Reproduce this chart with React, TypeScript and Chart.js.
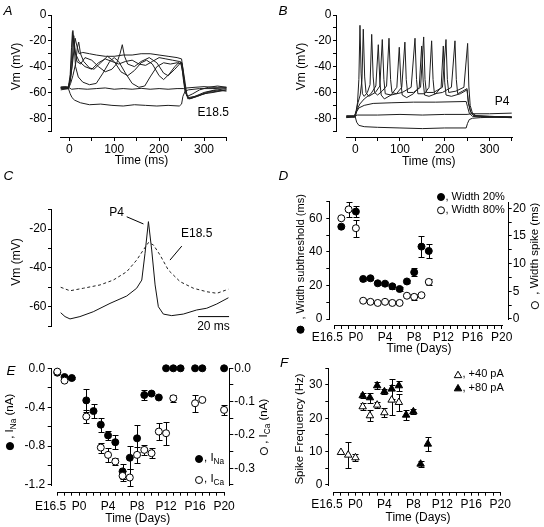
import React, { useEffect, useRef } from 'react';
import { Chart, registerables } from 'chart.js';

Chart.register(...registerables);

const FONT = "'Liberation Sans', Arial, Helvetica, sans-serif";
const PAGE_W = 544;
const PAGE_H = 527;
const LW = 30; // forced width of left axis boxes
const RW = 30; // forced width of right axis boxes
const XH = 30; // forced height of bottom axis boxes
const TICK_FONT = 12;

// ---------------- Panel A : E18.5 voltage traces (time ms, Vm mV) ----------------
const aTraceHyper = [[-19,-57],[-2,-57],[2,-61],[6,-64],[12,-66],[25,-68],[45,-69.5],[70,-69],[95,-70],[120,-70.5],[145,-69.5],[170,-70],[195,-70.5],[220,-70],[245,-70.5],[250,-69],[253,-63],[258,-59],[265,-58],[290,-57],[320,-57],[350,-56.5]];
const aTraceSub = [[-19,-56],[-2,-56],[5,-57.5],[20,-57],[40,-57.5],[60,-57],[80,-56.5],[100,-57.5],[120,-57],[140,-57.5],[160,-56.8],[180,-57.5],[200,-57],[220,-57.5],[240,-57],[255,-57],[262,-56.5],[280,-56],[300,-55.5],[320,-56],[350,-56]];
const aTrace1 = [[-19,-56],[-10,-55.5],[-2,-56],[2,-50],[5,-35],[8,-12],[11,-25],[14,-40],[20,-48],[30,-52],[45,-54],[60,-53],[75,-45],[90,-36],[100,-33],[110,-36],[125,-45],[140,-53],[155,-56],[168,-55],[180,-48],[195,-40],[210,-37],[225,-38],[240,-37],[250,-38],[254,-50],[258,-60],[265,-64],[280,-63],[300,-61],[320,-60],[350,-58]];
const aTrace2 = [[-19,-57],[-2,-57],[2,-52],[6,-40],[10,-16],[13,-28],[17,-36],[25,-38],[35,-33],[50,-35],[65,-40],[80,-44],[95,-42],[105,-38],[113,-30],[118,-23],[123,-32],[130,-38],[145,-40],[160,-36],[178,-33],[195,-37],[210,-45],[220,-47],[235,-42],[248,-37],[253,-45],[258,-58],[264,-65],[280,-63],[300,-60],[325,-58],[350,-59]];
const aTrace3 = [[-19,-56],[-2,-56],[3,-48],[8,-35],[13,-18],[17,-24],[22,-30],[30,-29],[45,-30],[60,-31],[80,-32],[100,-32],[120,-31],[140,-31],[160,-30],[180,-30],[200,-31],[220,-32],[240,-33],[250,-34],[254,-45],[258,-57],[263,-63],[275,-61],[290,-58],[310,-56],[330,-55],[350,-56]];
const aTrace4 = [[-19,-58],[-2,-57],[3,-53],[8,-47],[14,-38],[18,-25],[21,-21],[25,-30],[32,-36],[45,-41],[55,-42],[70,-37],[85,-32],[100,-36],[115,-44],[130,-47],[145,-43],[160,-37],[172,-35],[185,-38],[200,-47],[210,-50],[222,-46],[235,-40],[246,-36],[251,-37],[256,-48],[262,-62],[268,-65],[285,-63],[310,-60],[350,-58]];
const aTrace5 = [[-19,-56],[-2,-56],[2,-46],[5,-25],[7,-13],[10,-22],[14,-30],[22,-36],[35,-40],[50,-42],[65,-37],[80,-34],[95,-36],[110,-38],[125,-36],[140,-35],[155,-38],[170,-39],[185,-36],[200,-33],[215,-34],[230,-35],[245,-36],[251,-38],[256,-52],[261,-62],[267,-65],[285,-63],[305,-60],[330,-58],[350,-57]];

// ---------------- Panel B : P4 voltage traces ----------------
const bTraceHyper = [[-20,-79],[-5,-78.5],[0,-79],[3,-83],[8,-85.5],[20,-86.5],[50,-87],[100,-87.5],[150,-88],[200,-87.5],[248,-87.5],[251,-84],[255,-81],[262,-80],[280,-79.5],[320,-79],[350,-79]];
const bTraceSub1 = [[-20,-78],[0,-78],[5,-77.5],[50,-77.5],[100,-77],[150,-77.5],[200,-77],[250,-77],[260,-76.5],[300,-76.5],[350,-76]];
const bTraceSub2 = [[-20,-79],[0,-79],[3,-75],[8,-72],[20,-70],[40,-68.5],[80,-68],[130,-67.5],[180,-67.5],[248,-67],[251,-71],[255,-76],[262,-78.5],[280,-79],[350,-79.5]];
const bTrace1 = [[-20,-79],[-10,-78.5],[-2,-79],[2,-74],[5,-68],[8,-50],[10.5,-8],[13,-45],[16,-61],[20,-63],[27,-60],[33,-54],[36.7,-15],[40,-48],[43,-60],[50,-62],[60,-59],[70,-55],[75.4,-18],[79,-50],[82,-60],[92,-61],[104,-56],[111,-21],[114,-50],[117,-60],[130,-60],[146,-56],[153,-17],[156,-50],[159,-60],[175,-60],[195,-56],[202.9,-19],[206,-50],[209,-60],[225,-59],[243,-56],[251.3,-22],[254,-55],[257,-70],[262,-76],[270,-78],[300,-78.5],[350,-79]];
const bTrace2 = [[-20,-78.5],[-2,-78.5],[2,-75],[6,-68],[11,-62],[15,-50],[17.9,-11],[21,-48],[24,-60],[30,-63],[45,-60],[55,-55],[60.4,-19],[64,-50],[67,-61],[80,-62],[105,-60],[125,-56],[133.6,-18],[137,-50],[140,-61],[155,-61],[165,-56],[170.8,-20],[174,-50],[177,-61],[195,-60],[215,-56],[223,-20],[226,-50],[229,-61],[240,-59],[250,-57],[253,-68],[258,-75],[265,-78],[300,-79],[350,-79.5]];
const bTrace3 = [[-20,-79.5],[-2,-79],[3,-74],[10,-69],[20,-65],[35,-61],[46,-55],[51.5,-23],[55,-52],[58,-62],[65,-65],[80,-62],[93,-56],[98.4,-25],[102,-52],[105,-62],[115,-64],[130,-61],[143,-56],[148.5,-24],[152,-52],[155,-62],[165,-63],[180,-61],[192,-56],[196.9,-24],[200,-52],[203,-62],[215,-63],[235,-61],[250,-58],[253,-68],[258,-75],[265,-78],[300,-78.5],[350,-79]];

const msTicks = [0, 50, 100, 150, 200, 250, 300, 350];
const msTickLabels = ['0', '', '100', '', '200', '', '300', ''];
const vmTicksAB = [-90, -80, -70, -60, -50, -40, -30, -20, -10, 0];
const vmTickLabelsAB = ['', '-80', '', '-60', '', '-40', '', '-20', '', '0'];

// ---------------- Panel C : single spikes (ms, mV) ----------------
const cTraceP4 = [[5.6,-63.1],[8.4,-65.1],[11.6,-66.3],[18,-65.1],[26.6,-62.6],[37.4,-58.3],[48.2,-54.5],[54.6,-50.5],[57.9,-46.3],[60,-32.5],[62.2,-16.2],[64.3,-30.8],[66.5,-48.8],[68.6,-60],[71.8,-63.8],[77.2,-64.6],[84.7,-63.8],[93.3,-61.7],[99.8,-60.8],[106.3,-58.6],[113.8,-55.4]];
const cTraceE185 = [[5.6,-50],[11.6,-51.8],[20.2,-50.5],[31,-48.8],[39.5,-46.3],[48.2,-42],[54.6,-36],[58.9,-30.8],[62.2,-27],[65.4,-28.2],[69.7,-33.4],[75,-41.1],[82.6,-47.1],[91.2,-50.5],[99.8,-52.3],[106.3,-53.1],[113.8,-51]];
const cLeaderP4 = [[48.2,-13.7],[59,-17.4]];
const cLeaderE185 = [[83.7,-28.8],[76.1,-36]];
const cScaleBar = [[94.2,-65.1],[114.2,-65.1]];
const cVmTicks = [-70, -60, -50, -40, -30, -20, -10];
const cVmTickLabels = ['', '-60', '', '-40', '', '-20', ''];

// ---------------- Days axis shared by D, E, F ----------------
const dayTicks = [-3,-2,-1,0,1,2,3,4,5,6,7,8,9,10,11,12,13,14,15,16,17,18,19,20];
const dayTickLabels = ['E16.5    ','','','P0','','','','P4','','','','P8','','','','P12','','','','P16','','','','P20'];

// ---------------- Panel D : widths ----------------
const dDays20 = [-2, 0, 1, 2, 3, 4, 5, 6, 7, 8, 9, 10];
const dWidth20 = [55.1, 64.1, 23.9, 24.3, 21.3, 21.1, 19.5, 17.9, 22.4, 27.9, 43.2, 40.6];
const dWidth20Err = [0, 3.3, 1, 1, 0.8, 0.8, 1.5, 1, 1, 2.3, 6.2, 4.4];
const dDays80 = [-2, -1, 0, 1, 2, 3, 4, 5, 6, 7, 8, 9, 10];
const dWidth80 = [18.2, 19.8, 16.4, 3.3, 3.1, 2.9, 3.1, 2.9, 2.9, 4.2, 4.0, 4.3, 6.7];
const dWidth80Err = [0, 1.3, 1.5, 0.3, 0, 0, 0, 0, 0, 0.3, 0.6, 0, 0.5];
const dLeftTicks = [0, 10, 20, 30, 40, 50, 60, 70];
const dLeftTickLabels = ['0', '', '20', '', '40', '', '60', ''];
const dRightTicks = [0, 2.5, 5, 7.5, 10, 12.5, 15, 17.5, 20];
const dRightTickLabels = ['0', '', '5', '', '10', '', '15', '', '20'];

// ---------------- Panel E : currents ----------------
const eDaysNa = [-3, -2, -1, 1, 2, 3, 4, 5, 6, 7, 8, 9, 10, 11, 12, 13, 14, 16, 17, 20];
const eINa = [-0.045, -0.09, -0.1, -0.33, -0.44, -0.58, -0.69, -0.76, -1.06, -0.92, -0.72, -0.275, -0.26, -0.3, 0, 0, 0, 0, 0, 0];
const eINaErr = [0, 0.015, 0.01, 0.12, 0.07, 0.07, 0.05, 0.07, 0.08, 0.12, 0.14, 0.05, 0, 0, 0, 0, 0, 0, 0, 0];
const eDaysCa = [-3, -2, 1, 3, 4, 5, 6, 7, 8, 9, 10, 11, 12, 13, 16, 17, 20];
const eICa = [-0.01, -0.037, -0.145, -0.238, -0.26, -0.28, -0.323, -0.328, -0.26, -0.245, -0.255, -0.19, -0.195, -0.09, -0.105, -0.095, -0.125];
const eICaErr = [0, 0, 0.02, 0.015, 0.02, 0.01, 0.015, 0.025, 0.025, 0.015, 0.015, 0.025, 0.035, 0.01, 0.025, 0, 0.015];
const eLeftTicks = [-1.2, -1.0, -0.8, -0.6, -0.4, -0.2, 0];
const eLeftTickLabels = ['-1.2', '', '-0.8', '', '-0.4', '', '0.0'];
const eRightTicks = [-0.35, -0.3, -0.25, -0.2, -0.15, -0.1, -0.05, 0];
const eRightTickLabels = ['', '-0.3', '', '-0.2', '', '-0.1', '', '0.0'];

// ---------------- Panel F : spike frequency ----------------
const fDays40 = [-2, -1, 0, 1, 2, 3, 4, 5, 6];
const fFreq40 = [9.8, 9.0, 8.2, 23.5, 20.8, 24.0, 21.7, 25.5, 24.8];
const fFreq40Err = [0, 3.9, 1, 1, 1.7, 1, 1.3, 4.5, 2.5];
const fDays80 = [1, 2, 3, 4, 5, 6, 7, 8, 9, 10];
const fFreq80 = [26.8, 26.2, 29.8, 28.0, 28.8, 29.8, 21.0, 22.0, 6.3, 12.3];
const fFreq80Err = [0.8, 1.5, 1, 0.8, 3, 1.5, 1.5, 0.8, 0.8, 2];
const fTicks = [0, 5, 10, 15, 20, 25, 30, 35];
const fTickLabels = ['0', '', '10', '', '20', '', '30', ''];

// ---------------- helpers ----------------
const tr = (p: number[][]) => p.map(([x, y]) => ({ x, y }));
const xy = (xs: number[], ys: number[]) => xs.map((x, i) => ({ x, y: ys[i] }));

function traceDs(points: number[][], extra: any = {}) {
  return { data: tr(points), showLine: true, borderColor: '#1e1e1e', borderWidth: 1, pointRadius: 0, tension: 0, ...extra };
}

function markDs(xs: number[], ys: number[], errs: number[], style: string, filled: boolean, yAxisID = 'y') {
  const r = style === 'triangle' ? 4.3 : 3.5;
  return {
    data: xy(xs, ys), errors: errs, showLine: false, yAxisID, clip: false,
    pointStyle: style, pointRadius: r, pointBorderWidth: 1,
    pointBorderColor: '#000', pointBackgroundColor: filled ? '#000' : '#fff',
    borderColor: '#000', backgroundColor: filled ? '#000' : '#fff',
  };
}

function axis(pos: string, min: number, max: number, ticks: number[], labels: string[], pad: number, size: number) {
  const vertical = pos === 'left' || pos === 'right';
  return {
    type: 'linear', position: pos, min, max, display: true,
    afterBuildTicks: (s: any) => { s.ticks = ticks.map((v) => ({ value: v })); },
    afterFit: (s: any) => { if (vertical) s.width = size; else s.height = size; },
    grid: { display: true, drawOnChartArea: false, drawTicks: true, tickLength: 4, color: '#000', lineWidth: 1 },
    border: { display: false },
    title: { display: false },
    ticks: {
      autoSkip: false, maxRotation: 0, minRotation: 0, padding: pad, color: '#000',
      font: { size: TICK_FONT, family: FONT },
      callback: (_v: any, i: number) => labels[i] ?? '',
    },
  };
}

// text item: parts may be strings, subscripts or drawn circle symbols
function drawText(ctx: CanvasRenderingContext2D, it: any) {
  const size = it.size ?? 11.5;
  const parts = typeof it.text === 'string' ? [{ t: it.text }] : it.text;
  const fontFor = (p: any) => `${it.italic ? 'italic ' : ''}${p.sub ? size * 0.72 : size}px ${FONT}`;
  ctx.save();
  ctx.translate(it.x, it.y);
  if (it.rot) ctx.rotate(-Math.PI / 2);
  let total = 0;
  const widths = parts.map((p: any) => {
    let w;
    if (p.sym) w = p.r * 2 + 1;
    else { ctx.font = fontFor(p); w = ctx.measureText(p.t).width; }
    total += w;
    return w;
  });
  let x = it.align === 'left' ? 0 : it.align === 'right' ? -total : -total / 2;
  ctx.fillStyle = '#000';
  ctx.textAlign = 'left';
  ctx.textBaseline = it.baseline ?? 'middle';
  parts.forEach((p: any, i: number) => {
    if (p.sym) {
      ctx.beginPath();
      ctx.arc(x + p.r + 0.5, 0, p.r, 0, Math.PI * 2);
      ctx.fillStyle = p.sym === 'filled' ? '#000' : '#fff';
      ctx.fill();
      ctx.lineWidth = 1;
      ctx.strokeStyle = '#000';
      ctx.stroke();
      ctx.fillStyle = '#000';
    } else {
      ctx.font = fontFor(p);
      ctx.fillText(p.t, x, p.sub ? size * 0.32 : 0);
    }
    x += widths[i];
  });
  ctx.restore();
}

function drawMarker(ctx: CanvasRenderingContext2D, m: any) {
  ctx.save();
  ctx.beginPath();
  if (m.shape === 'circle') {
    ctx.arc(m.x, m.y, m.r, 0, Math.PI * 2);
  } else {
    let rad = 0;
    ctx.moveTo(m.x + Math.sin(rad) * m.r, m.y - Math.cos(rad) * m.r);
    rad += (2 * Math.PI) / 3;
    ctx.lineTo(m.x + Math.sin(rad) * m.r, m.y - Math.cos(rad) * m.r);
    rad += (2 * Math.PI) / 3;
    ctx.lineTo(m.x + Math.sin(rad) * m.r, m.y - Math.cos(rad) * m.r);
    ctx.closePath();
  }
  ctx.fillStyle = m.filled ? '#000' : '#fff';
  ctx.fill();
  ctx.lineWidth = 1;
  ctx.strokeStyle = '#000';
  ctx.stroke();
  ctx.restore();
}

function decor(spec: any) {
  return {
    id: 'decor',
    beforeDatasetsDraw(chart: any) {
      const ctx = chart.ctx;
      chart.data.datasets.forEach((ds: any) => {
        if (!ds.errors) return;
        const xs = chart.scales[ds.xAxisID || 'x'];
        const ys = chart.scales[ds.yAxisID || 'y'];
        ctx.save();
        ctx.strokeStyle = '#000';
        ctx.lineWidth = 1;
        ds.data.forEach((d: any, j: number) => {
          const e = ds.errors[j];
          if (!e) return;
          const px = Math.round(xs.getPixelForValue(d.x)) + 0.5;
          const y1 = Math.round(ys.getPixelForValue(d.y + e)) + 0.5;
          const y2 = Math.round(ys.getPixelForValue(d.y - e)) + 0.5;
          ctx.beginPath();
          ctx.moveTo(px, y1); ctx.lineTo(px, y2);
          ctx.moveTo(px - 3, y1); ctx.lineTo(px + 3, y1);
          ctx.moveTo(px - 3, y2); ctx.lineTo(px + 3, y2);
          ctx.stroke();
        });
        ctx.restore();
      });
    },
    afterDraw(chart: any) {
      const ctx = chart.ctx;
      const ca = chart.chartArea;
      ctx.save();
      ctx.strokeStyle = '#000';
      ctx.lineWidth = 1;
      (spec.axes || []).forEach((a: any) => {
        const s = chart.scales[a.s];
        ctx.beginPath();
        if (s.isHorizontal()) {
          const y = Math.round(ca.bottom) + 0.5;
          ctx.moveTo(Math.round(s.getPixelForValue(a.from)), y);
          ctx.lineTo(Math.round(s.getPixelForValue(a.to)) + 1, y);
        } else {
          const x = s.position === 'right' ? Math.round(ca.right) + 0.5 : Math.round(ca.left) - 0.5;
          ctx.moveTo(x, Math.round(s.getPixelForValue(a.from)) + 1);
          ctx.lineTo(x, Math.round(s.getPixelForValue(a.to)));
        }
        ctx.stroke();
      });
      ctx.restore();
      (spec.markers || []).forEach((m: any) => drawMarker(ctx, m));
      (spec.texts || []).forEach((t: any) => drawText(ctx, t));
    },
  };
}

function makeConfig(o: any) {
  const a = o.area;
  return {
    type: 'scatter',
    data: { datasets: o.datasets },
    options: {
      responsive: false,
      maintainAspectRatio: false,
      animation: false,
      devicePixelRatio: 1,
      events: [],
      layout: {
        padding: {
          left: a.l - LW,
          top: a.t,
          right: PAGE_W - a.r - (o.hasRight ? RW : 0),
          bottom: PAGE_H - a.b - (o.hasX === false ? 0 : XH),
        },
      },
      scales: o.scales,
      plugins: { legend: { display: false }, tooltip: { enabled: false }, title: { display: false } },
    },
    plugins: [decor(o.decor)],
  };
}

// ---------------- panel configs ----------------
const letter = (t: string, x: number, y: number) => ({ x, y, text: t, size: 13.5, italic: true, align: 'left', baseline: 'alphabetic' });
const SYM_R = 3.6;

function configA() {
  return makeConfig({
    area: { l: 52, t: 15, r: 228, b: 137 },
    scales: {
      x: axis('bottom', -38.5, 353.4, msTicks, msTickLabels, 1.5, XH),
      y: axis('left', -94.5, 0, vmTicksAB, vmTickLabelsAB, 1.5, LW),
    },
    datasets: [aTraceHyper, aTraceSub, aTrace1, aTrace2, aTrace3, aTrace4, aTrace5].map((p) => traceDs(p)),
    decor: {
      axes: [{ s: 'y', from: -90, to: 0 }, { s: 'x', from: -20, to: 350 }],
      texts: [
        letter('A', 3.5, 15),
        { x: 17, y: 66.5, text: 'Vm (mV)', rot: true, size: 12 },
        { x: 141.5, y: 161, text: 'Time (ms)', size: 12 },
        { x: 213.3, y: 112.5, text: 'E18.5', size: 12 },
      ],
    },
  });
}

function configB() {
  return makeConfig({
    area: { l: 337, t: 15, r: 513, b: 137 },
    scales: {
      x: axis('bottom', -40.9, 352.8, msTicks, msTickLabels, 1.5, XH),
      y: axis('left', -94.5, 0, vmTicksAB, vmTickLabelsAB, 1.5, LW),
    },
    datasets: [bTraceHyper, bTraceSub1, bTraceSub2, bTrace1, bTrace2, bTrace3].map((p) => traceDs(p)),
    decor: {
      axes: [{ s: 'y', from: -90, to: 0 }, { s: 'x', from: -20, to: 350 }],
      texts: [
        letter('B', 278.5, 15),
        { x: 302, y: 66.5, text: 'Vm (mV)', rot: true, size: 12 },
        { x: 428.7, y: 162, text: 'Time (ms)', size: 12 },
        { x: 502, y: 102, text: 'P4', size: 12 },
      ],
    },
  });
}

function configC() {
  return makeConfig({
    area: { l: 52, t: 205, r: 232, b: 330 },
    hasX: false,
    scales: {
      x: { type: 'linear', display: false, min: 0, max: 116.1 },
      y: axis('left', -72, -7.64, cVmTicks, cVmTickLabels, 1.5, LW),
    },
    datasets: [
      traceDs(cTraceP4, { borderColor: '#111' }),
      traceDs(cTraceE185, { borderColor: '#222', borderDash: [3, 2.5] }),
      traceDs(cLeaderP4, { borderColor: '#000' }),
      traceDs(cLeaderE185, { borderColor: '#000' }),
      traceDs(cScaleBar, { borderColor: '#000' }),
    ],
    decor: {
      axes: [{ s: 'y', from: -70, to: -10 }],
      texts: [
        letter('C', 3.5, 180),
        { x: 17, y: 262, text: 'Vm (mV)', rot: true, size: 12 },
        { x: 116.7, y: 212.7, text: 'P4', size: 12 },
        { x: 196.7, y: 233.3, text: 'E18.5', size: 12 },
        { x: 213.5, y: 327, text: '20 ms', size: 12 },
      ],
    },
  });
}

function configD() {
  return makeConfig({
    area: { l: 330.3, t: 201.7, r: 507.7, b: 325 },
    hasRight: true,
    scales: {
      x: axis('bottom', -3.51, 20.83, dayTicks, dayTickLabels, 1.5, XH),
      y: axis('left', -3.58, 70, dLeftTicks, dLeftTickLabels, 4, LW),
      y2: axis('right', -1.084, 21.19, dRightTicks, dRightTickLabels, 1, RW),
    },
    datasets: [
      markDs(dDays80, dWidth80, dWidth80Err, 'circle', false, 'y2'),
      markDs(dDays20, dWidth20, dWidth20Err, 'circle', true, 'y'),
    ],
    decor: {
      axes: [{ s: 'y', from: 0, to: 70 }, { s: 'y2', from: 0, to: 21.19 }, { s: 'x', from: -3, to: 20 }],
      markers: [
        { shape: 'circle', x: 441, y: 197, r: 3.5, filled: true },
        { shape: 'circle', x: 441, y: 210.3, r: 3.5, filled: false },
      ],
      texts: [
        letter('D', 278.5, 180),
        { x: 300.5, y: 264, text: [{ sym: 'filled', r: SYM_R }, { t: '  , Width subthreshold (ms)' }], rot: true, size: 11 },
        { x: 535, y: 256, text: [{ sym: 'open', r: SYM_R }, { t: '  , Width spike (ms)' }], rot: true, size: 11.5 },
        { x: 419, y: 349, text: 'Time (Days)', size: 12 },
        { x: 445.5, y: 197, text: ', Width 20%', align: 'left', size: 11 },
        { x: 445.5, y: 210.3, text: ', Width 80%', align: 'left', size: 11 },
      ],
    },
  });
}

function configE() {
  return makeConfig({
    area: { l: 51.7, t: 368.3, r: 229.3, b: 491.7 },
    hasRight: true,
    scales: {
      x: axis('bottom', -3.77, 20.72, dayTicks, dayTickLabels, 3.5, XH),
      y: axis('left', -1.269, 0, eLeftTicks, eLeftTickLabels, 2.5, LW),
      y2: axis('right', -0.3706, 0, eRightTicks, eRightTickLabels, 1, RW),
    },
    datasets: [
      markDs(eDaysCa, eICa, eICaErr, 'circle', false, 'y2'),
      markDs(eDaysNa, eINa, eINaErr, 'circle', true, 'y'),
    ],
    decor: {
      axes: [{ s: 'y', from: -1.2, to: 0 }, { s: 'y2', from: -0.35, to: 0 }, { s: 'x', from: -3, to: 20 }],
      markers: [
        { shape: 'circle', x: 199, y: 459, r: 3.5, filled: true },
        { shape: 'circle', x: 199, y: 480, r: 3.5, filled: false },
      ],
      texts: [
        letter('E', 6.5, 375),
        { x: 10, y: 422, text: [{ sym: 'filled', r: SYM_R }, { t: ' , I' }, { t: 'Na', sub: true }, { t: ' (nA)' }], rot: true },
        { x: 264, y: 427, text: [{ sym: 'open', r: SYM_R }, { t: ' , I' }, { t: 'Ca', sub: true }, { t: ' (nA)' }], rot: true },
        { x: 137.7, y: 518.3, text: 'Time (Days)', size: 12 },
        { x: 204, y: 458, text: [{ t: ', I' }, { t: 'Na', sub: true }], align: 'left', size: 11.5 },
        { x: 204, y: 479, text: [{ t: ', I' }, { t: 'Ca', sub: true }], align: 'left', size: 11.5 },
      ],
    },
  });
}

function configF() {
  return makeConfig({
    area: { l: 329.3, t: 368.3, r: 503, b: 491.7 },
    scales: {
      x: axis('bottom', -3.61, 20.38, dayTicks, dayTickLabels, 1.5, XH),
      y: axis('left', -2.01, 35, fTicks, fTickLabels, 3, LW),
    },
    datasets: [
      markDs(fDays40, fFreq40, fFreq40Err, 'triangle', false, 'y'),
      markDs(fDays80, fFreq80, fFreq80Err, 'triangle', true, 'y'),
    ],
    decor: {
      axes: [{ s: 'y', from: 0, to: 35 }, { s: 'x', from: -3, to: 20 }],
      markers: [
        { shape: 'tri', x: 458, y: 375.5, r: 4.3, filled: false },
        { shape: 'tri', x: 458, y: 388.7, r: 4.3, filled: true },
      ],
      texts: [
        letter('F', 280, 366.5),
        { x: 299.7, y: 429, text: 'Spike Frequency (Hz)', rot: true, size: 11.5 },
        { x: 418, y: 517.7, text: 'Time (Days)', size: 12 },
        { x: 462.5, y: 374.3, text: ', +40 pA', align: 'left', size: 11 },
        { x: 462.5, y: 387.7, text: ', +80 pA', align: 'left', size: 11 },
      ],
    },
  });
}

function ChartCanvas({ make }: { make: () => any }) {
  const ref = useRef<HTMLCanvasElement>(null);
  useEffect(() => {
    const chart = new Chart(ref.current as HTMLCanvasElement, make());
    return () => chart.destroy();
  }, [make]);
  return (
    <canvas
      ref={ref}
      width={PAGE_W}
      height={PAGE_H}
      style={{ position: 'absolute', left: 0, top: 0, width: PAGE_W, height: PAGE_H }}
    />
  );
}

const PANELS = [configA, configB, configC, configD, configE, configF];

export default function App() {
  return (
    <div style={{ position: 'fixed', left: 0, top: 0, width: PAGE_W, height: PAGE_H, background: '#fff', overflow: 'hidden' }}>
      {PANELS.map((m, i) => (
        <ChartCanvas key={i} make={m} />
      ))}
    </div>
  );
}
